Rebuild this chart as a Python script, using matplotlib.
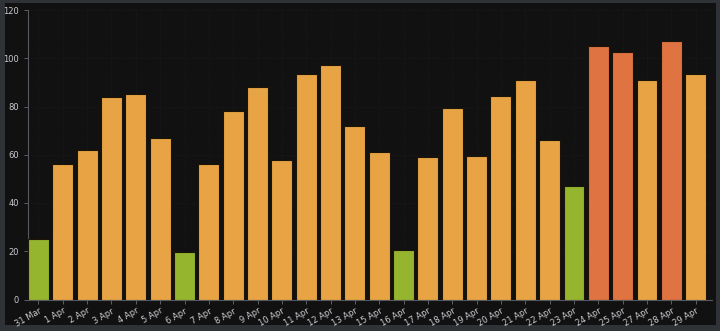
import matplotlib.pyplot as plt
from matplotlib.patches import Rectangle

# Daily values
days = ['31 Mar', '1 Apr', '2 Apr', '3 Apr', '4 Apr', '5 Apr', '6 Apr', '7 Apr',
        '8 Apr', '9 Apr', '10 Apr', '11 Apr', '12 Apr', '13 Apr', '15 Apr', '16 Apr',
        '17 Apr', '18 Apr', '19 Apr', '20 Apr', '21 Apr', '22 Apr', '23 Apr', '24 Apr',
        '25 Apr', '27 Apr', '28 Apr', '29 Apr']
values = [25, 56, 62, 84, 85, 67, 19.5, 56,
          78, 88, 58, 93.5, 97, 72, 61, 20.5,
          59, 79.5, 59.5, 84.5, 91, 66, 47, 105,
          102.5, 91, 107, 93.5]

GREEN = '#95b52f'
ORANGE = '#e8a444'
RED = '#df7342'
TEXT = '#c9cbcf'

# colour by level: low is green, very high is red
def bar_color(v):
    if v < 50:
        return GREEN
    if v > 100:
        return RED
    return ORANGE

colors = [bar_color(v) for v in values]

fig = plt.figure(figsize=(7.2, 3.31), dpi=100, facecolor='#2f3237')
# dark panel behind the chart
fig.patches.append(Rectangle((5 / 720, 6 / 331), 711 / 720, 322 / 331,
                             transform=fig.transFigure, facecolor='#111111',
                             edgecolor='none', zorder=-5))

ax = fig.add_axes([28 / 720, 31.5 / 331, 684 / 720, 289.5 / 331])
ax.set_zorder(2)
ax.set_facecolor('#111111')

x = list(range(len(days)))
ax.bar(x, values, width=0.86, color=colors, edgecolor='#1c1408', linewidth=0.8, zorder=3)

ax.set_xlim(-0.43, len(days) - 0.33)
ax.set_ylim(0, 120)
ax.set_yticks([0, 20, 40, 60, 80, 100, 120])
ax.set_xticks(x)
ax.set_xticklabels(days, rotation=30, ha='right', rotation_mode='anchor')

ax.tick_params(axis='both', colors='#6a6d72', labelcolor=TEXT, labelsize=6,
               length=3, width=0.6)
ax.tick_params(axis='x', pad=2)

# barely visible dotted grid
ax.grid(True, color='#1e1e1e', linestyle=':', linewidth=0.6, zorder=0)

for side in ['top', 'right']:
    ax.spines[side].set_visible(False)
for side in ['left', 'bottom']:
    ax.spines[side].set_color('#55585d')
    ax.spines[side].set_linewidth(0.8)

fig.savefig('out.png', dpi=100, facecolor=fig.get_facecolor())
